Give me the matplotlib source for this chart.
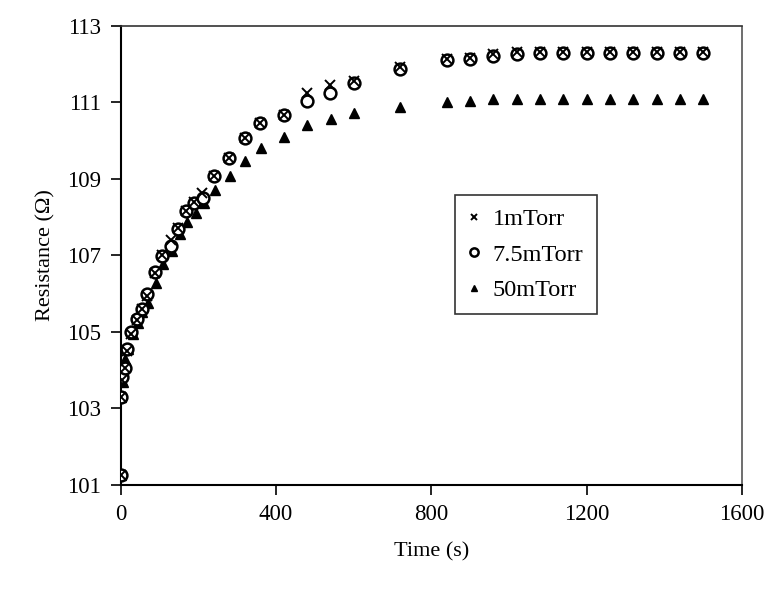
import numpy as np
import matplotlib
matplotlib.use('Agg')
import matplotlib.pyplot as plt

plt.rcParams['font.family'] = ['Liberation Serif', 'DejaVu Serif']

# 1 mTorr (crosses)
t_1 = [0, 2, 3, 11, 17, 28, 41, 56, 69, 88, 107, 130, 149, 169, 188, 210, 240, 280, 320, 360, 420, 480, 540, 600,
       720, 840, 900, 960, 1020, 1080, 1140, 1200, 1260, 1320, 1380, 1440, 1500]
r_1 = [101.25, 103.3, 103.75, 104.05, 104.5, 104.95, 105.3, 105.6, 105.95, 106.55, 107.0, 107.4, 107.72, 108.15, 108.4, 108.64,
       109.07, 109.55, 110.07, 110.46, 110.68, 111.26, 111.46, 111.55,
       111.92, 112.13, 112.17, 112.27, 112.33, 112.33, 112.33, 112.33, 112.33, 112.33, 112.33, 112.33, 112.33]

# 7.5 mTorr (circles)
t_75 = [0, 2, 3, 11, 17, 28, 41, 56, 69, 88, 107, 130, 149, 169, 188, 213, 240, 280, 320, 360, 420, 480, 540, 600,
        720, 840, 900, 960, 1020, 1080, 1140, 1200, 1260, 1320, 1380, 1440, 1500]
r_75 = [101.25, 103.3, 103.81, 104.07, 104.55, 104.99, 105.33, 105.59, 105.98, 106.56, 106.98, 107.24, 107.68, 108.16, 108.36, 108.51,
        109.07, 109.55, 110.07, 110.46, 110.68, 111.03, 111.25, 111.52,
        111.88, 112.1, 112.14, 112.22, 112.28, 112.29, 112.29, 112.29, 112.29, 112.29, 112.29, 112.29, 112.29]

# 50 mTorr (triangles)
t_50 = [0, 2, 7, 11, 20, 33, 45, 56, 71, 90, 110, 132, 153, 172, 194, 216, 243, 282, 321, 361, 421, 480, 542, 600,
        720, 840, 900, 960, 1020, 1080, 1140, 1200, 1260, 1320, 1380, 1440, 1500]
r_50 = [101.25, 103.3, 103.68, 104.29, 104.55, 104.94, 105.24, 105.51, 105.77, 106.29, 106.77, 107.11, 107.55, 107.88, 108.11, 108.38,
        108.72, 109.07, 109.46, 109.81, 110.11, 110.42, 110.57, 110.72,
        110.87, 111.0, 111.04, 111.08, 111.1, 111.1, 111.1, 111.1, 111.1, 111.1, 111.1, 111.1, 111.1]

fig = plt.figure(figsize=(7.73, 5.9), dpi=100)
ax = fig.add_axes([0.156, 0.178, 0.804, 0.778])

ax.plot(t_50, r_50, linestyle='none', marker='^', markersize=7, color='black', label='50mTorr', zorder=3)
ax.plot(t_75, r_75, linestyle='none', marker='o', markersize=8.5, markerfacecolor='white',
        markeredgecolor='black', markeredgewidth=1.8, label='7.5mTorr', zorder=4)
ax.plot(t_1, r_1, linestyle='none', marker='x', markersize=7, color='black', markeredgewidth=1.4,
        label='1mTorr', zorder=5)

ax.set_xlim(0, 1600)
ax.set_ylim(101, 113)
ax.set_xticks([0, 400, 800, 1200, 1600])
ax.set_yticks([101, 103, 105, 107, 109, 111, 113])
ax.tick_params(direction='out', length=7, width=1.2, labelsize=16.5, pad=7)

for s in ['left', 'bottom']:
    ax.spines[s].set_linewidth(1.5)
ax.spines['top'].set_linestyle((0, (2, 1)))
ax.spines['top'].set_linewidth(1.2)
ax.spines['top'].set_color('#333333')
ax.spines['right'].set_linestyle((0, (1, 1)))
ax.spines['right'].set_linewidth(1.2)
ax.spines['right'].set_color('#555555')

ax.set_xlabel('Time (s)', fontsize=16, labelpad=12)
ax.set_ylabel('Resistance (\u03a9)', fontsize=16, labelpad=8)

h, l = ax.get_legend_handles_labels()
order = [2, 1, 0]
leg = ax.legend([h[i] for i in order], [l[i] for i in order], loc='upper left',
                bbox_to_anchor=(0.538, 0.632), fontsize=17.5, frameon=True, fancybox=False,
                handlelength=0.5, handletextpad=0.5, borderpad=0.55, labelspacing=0.55,
                borderaxespad=0, markerscale=0.7)
leg.get_frame().set_edgecolor('black')
leg.get_frame().set_linewidth(1.2)

fig.savefig('out.png', dpi=100)
